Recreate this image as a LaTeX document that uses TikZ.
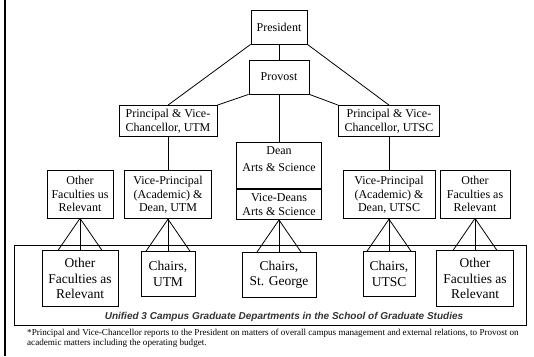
\documentclass[tikz,border=0pt]{standalone}
\usepackage{fontspec}
\setmainfont{Liberation Serif}
\newfontfamily\capfont{Liberation Sans}
\usetikzlibrary{positioning}

\begin{document}
\begin{tikzpicture}[x=1pt, y=-1pt,
  box/.style={draw, line width=0.8pt, align=center, inner sep=1pt, font=\fontsize{12}{13.8}\selectfont},
  lowbox/.style={box, font=\fontsize{13.5}{15.5}\selectfont},
  link/.style={line width=0.8pt},
]
\useasboundingbox (0,0) rectangle (534,356);
\draw[line width=1.8pt] (5,0) -- (5,356);

% top of the tree
\node[box, minimum width=56pt, minimum height=34pt] (president) at (279,27) {President};
\node[box, minimum width=60pt, minimum height=34pt] (provost) at (279,77) {Provost};
\node[box, minimum width=98pt, minimum height=31pt] (princUTM) at (168,121) {Principal \& Vice-\\Chancellor, UTM};
\node[box, minimum width=101pt, minimum height=31pt] (princUTSC) at (389,121) {Principal \& Vice-\\Chancellor, UTSC};

% deans and vice-principals
\node[box, minimum width=85pt, minimum height=46pt, below=48pt of provost] (dean) {Dean\\[3pt]Arts \& Science\\\mbox{}};
\node[box, minimum width=85pt, minimum height=30pt, below=0pt of dean] (viceDeans) {Vice-Deans\\Arts \& Science};
\node[box, minimum width=87pt, minimum height=48pt, below=33.5pt of princUTM] (vpUTM) {Vice-Principal\\(Academic) \&\\Dean, UTM};
\node[box, minimum width=92pt, minimum height=48pt, below=33.5pt of princUTSC] (vpUTSC) {Vice-Principal\\(Academic) \&\\Dean, UTSC};
\node[box, minimum width=66pt, minimum height=48pt] (otherA) at (80,194) {Other\\Faculties us\\Relevant};
\node[box, minimum width=70pt, minimum height=48pt] (otherB) at (475,194) {Other\\Faculties as\\Relevant};

% graduate departments
\node[draw, line width=0.8pt, minimum width=512pt, minimum height=80pt] (dept) at (270,285) {};
\node[font=\capfont\bfseries\itshape\fontsize{10}{11}\selectfont, text=black!80] (deptName) at (284,317) {Unified 3 Campus Graduate Departments in the School of Graduate Studies};
\node[lowbox, minimum width=76pt, minimum height=56pt, below=32pt of otherA] (otherAlow) {Other\\Faculties as\\Relevant};
\node[lowbox, minimum width=54pt, minimum height=45pt, below=32pt of vpUTM] (chairsUTM) {Chairs,\\UTM};
\node[lowbox, minimum width=74pt, minimum height=45pt, below=32pt of viceDeans] (chairsSG) {Chairs,\\St. George};
\node[lowbox, minimum width=52pt, minimum height=45pt, below=32pt of vpUTSC] (chairsUTSC) {Chairs,\\UTSC};
\node[lowbox, minimum width=77pt, minimum height=56pt, below=32pt of otherB] (otherBlow) {Other\\Faculties as\\Relevant};

% footnote
\node[font=\fontsize{9.1}{9.5}\selectfont, align=left, anchor=north west, inner sep=0pt] (note) at (27,329) {*Principal and Vice-Chancellor reports to the President on matters of overall campus management and external relations, to Provost on\\academic matters including the operating budget.};

% connectors
\draw[link] (president) -- (provost);
\draw[link] (president.south west) -- (princUTM.north);
\draw[link] (president.south east) -- (princUTSC.north);
\draw[link] (provost.south west) -- (princUTM.north east);
\draw[link] (provost.south east) -- (princUTSC.north west);
\draw[link] (provost) -- (dean);
\draw[link] (princUTM) -- (vpUTM);
\draw[link] (princUTSC) -- (vpUTSC);
\foreach \up/\low in {otherA/otherAlow, vpUTM/chairsUTM, viceDeans/chairsSG, vpUTSC/chairsUTSC, otherB/otherBlow}
  \foreach \dx in {-22pt,0pt,22pt}
    \draw[link] (\up.south) -- ([xshift=\dx]\low.north);
\end{tikzpicture}
\end{document}
